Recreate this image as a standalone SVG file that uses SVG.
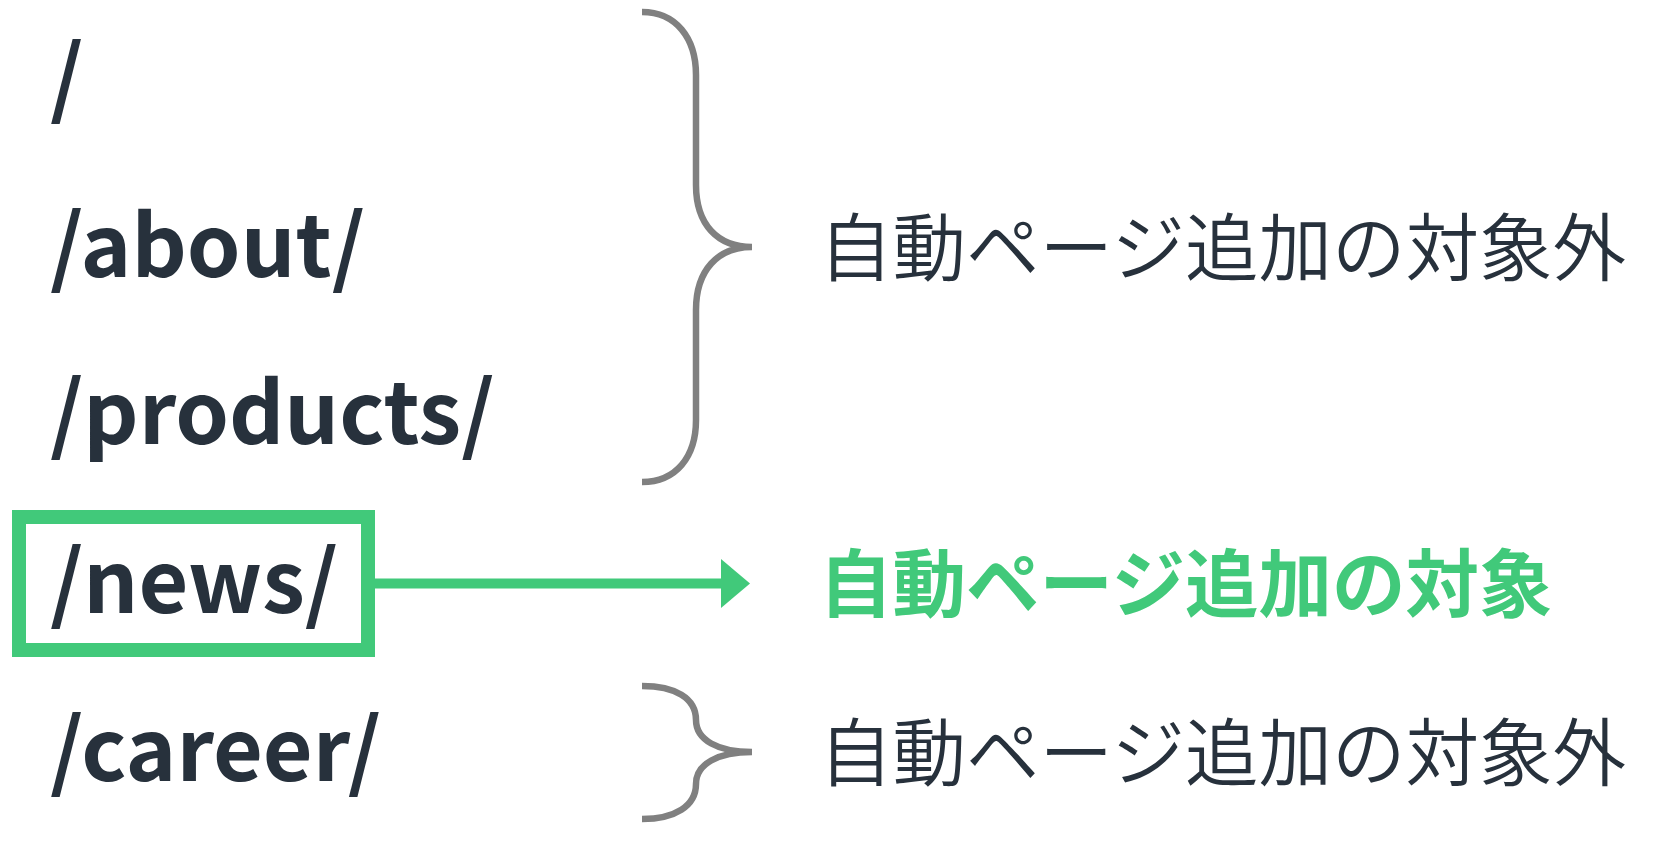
<svg xmlns="http://www.w3.org/2000/svg" width="1672" height="852" viewBox="0 0 1672 852">
<style>
.path{font-family:"Noto Sans CJK JP","Source Sans Pro","Liberation Sans",sans-serif;font-weight:700;font-size:86px;fill:#27313c}
.lbl{font-family:"Noto Sans CJK JP",sans-serif;font-size:73.5px;font-weight:350;fill:#27313c}
.lbl-on{font-family:"Noto Sans CJK JP",sans-serif;font-size:73.5px;font-weight:700;fill:#41c97a}
.brace{fill:none;stroke:#808080;stroke-width:6.5}
.conn{fill:none;stroke:#41c97a;stroke-width:10}
</style>
<rect width="1672" height="852" fill="#ffffff"/>
<g id="node-root"><text class="path" x="50" y="108">/</text></g>
<g id="node-about"><text class="path" x="50" y="277">/about/</text></g>
<g id="node-products"><text class="path" x="50" y="444">/products/</text></g>
<g id="node-news">
<rect x="19" y="517" width="349" height="133" fill="none" stroke="#41c97a" stroke-width="14"/>
<text class="path" x="50" y="613">/news/</text>
</g>
<g id="node-career"><text class="path" x="50" y="781">/career/</text></g>
<g id="label-excluded-1"><text class="lbl" x="819" y="275">自動ページ追加の対象外</text></g>
<g id="label-target"><text class="lbl-on" x="819" y="611">自動ページ追加の対象</text></g>
<g id="label-excluded-2"><text class="lbl" x="819" y="780">自動ページ追加の対象外</text></g>
<g id="connectors">
<path class="brace" d="M642,12 C676,12 696,38 696,75 L696,185 C696,225 718,247 752,247 C718,247 696,270 696,310 L696,420 C696,457 676,482 642,482"/>
<path class="brace" d="M642,686 C675,686 696,698 696,720 C696,740 718,752 752,752 C718,752 696,764 696,784 C696,806 675,819 642,819"/>
<line class="conn" x1="375" y1="583.5" x2="722" y2="583.5"/>
<path d="M721,559 L750,583.5 L721,608 Z" fill="#41c97a"/>
</g>
</svg>
